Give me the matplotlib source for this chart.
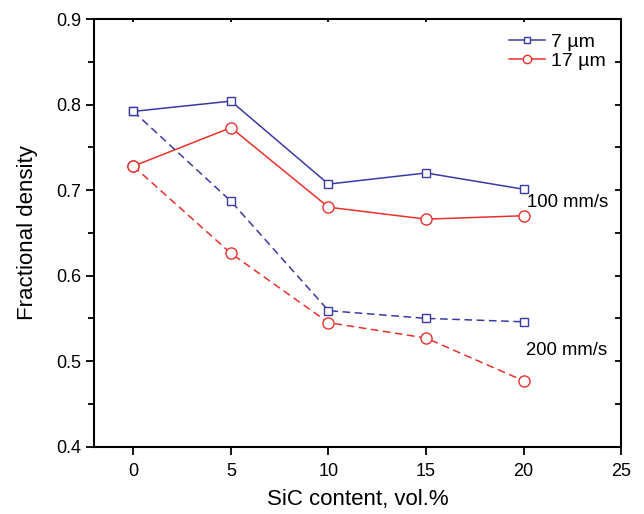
import numpy as np
import matplotlib.pyplot as plt
from matplotlib.ticker import MultipleLocator

plt.rcParams['font.family'] = ['Liberation Sans', 'DejaVu Sans']

sic = [0, 5, 10, 15, 20]
# fractional density, 100 mm/s scan speed
d7_100 = [0.792, 0.804, 0.707, 0.720, 0.701]
d17_100 = [0.728, 0.773, 0.680, 0.666, 0.670]
# fractional density, 200 mm/s scan speed
d7_200 = [0.792, 0.687, 0.559, 0.550, 0.546]
d17_200 = [0.728, 0.626, 0.545, 0.527, 0.477]

blue = '#3a3aa6'
red = '#e8312b'

fig = plt.figure(figsize=(6.44, 5.14), dpi=100)
ax = fig.add_axes([0.1465, 0.131, 0.818, 0.832])

sq = dict(marker='s', ms=6, mfc='white', mew=1.0)
ci = dict(marker='o', ms=8, mfc='white', mew=1.0)

ax.plot(sic, d7_100, color=blue, lw=1.1, label='7 \u00b5m', **sq)
ax.plot(sic, d17_100, color=red, lw=1.1, label='17 \u00b5m', **ci)
ax.plot(sic, d7_200, color=blue, lw=1.1, ls=(0, (5, 3)), **sq)
ax.plot(sic, d17_200, color=red, lw=1.1, ls=(0, (5, 3)), **ci)

ax.text(20.2, 0.685, '100 mm/s', fontsize=13.3, va='center', ha='left')
ax.text(20.1, 0.513, '200 mm/s', fontsize=13.3, va='center', ha='left')

ax.set_xlim(-2, 25)
ax.set_ylim(0.4, 0.9)
ax.xaxis.set_major_locator(MultipleLocator(5))
ax.yaxis.set_minor_locator(MultipleLocator(0.05))
ax.set_yticks([0.4, 0.5, 0.6, 0.7, 0.8, 0.9])
ax.set_yticklabels(['0.4', '0.5', '0.6', '0.7', '0.8', '0.9'])

for s in ax.spines.values():
    s.set_linewidth(1.5)

ax.tick_params(axis='both', which='major', labelsize=13, width=1.3)
ax.tick_params(axis='x', which='major', direction='out', length=6, pad=6, top=True)
ax.tick_params(axis='y', which='major', direction='out', length=6, right=True)
ax.tick_params(axis='y', which='minor', direction='out', length=4, width=1.3, right=True)
# inward ticks on the mirrored axes
for t in ax.yaxis.get_major_ticks() + ax.yaxis.get_minor_ticks():
    t.tick2line.set_marker(0)
    t.tick2line.set_markersize(4)
for t in ax.xaxis.get_major_ticks():
    t.tick2line.set_marker(3)
    t.tick2line.set_markersize(2)
    t.tick2line.set_color('#999999')

ax.set_xlabel('SiC content, vol.%', fontsize=16, labelpad=6)
ax.set_ylabel('Fractional density', fontsize=16, labelpad=13)

ax.legend(loc='upper left', frameon=False, fontsize=14, handlelength=1.85,
          handletextpad=0.3, labelspacing=0.1, borderpad=0, borderaxespad=0,
          markerscale=0.75, bbox_to_anchor=(0.787, 0.967))

fig.savefig('out.png', dpi=100)
